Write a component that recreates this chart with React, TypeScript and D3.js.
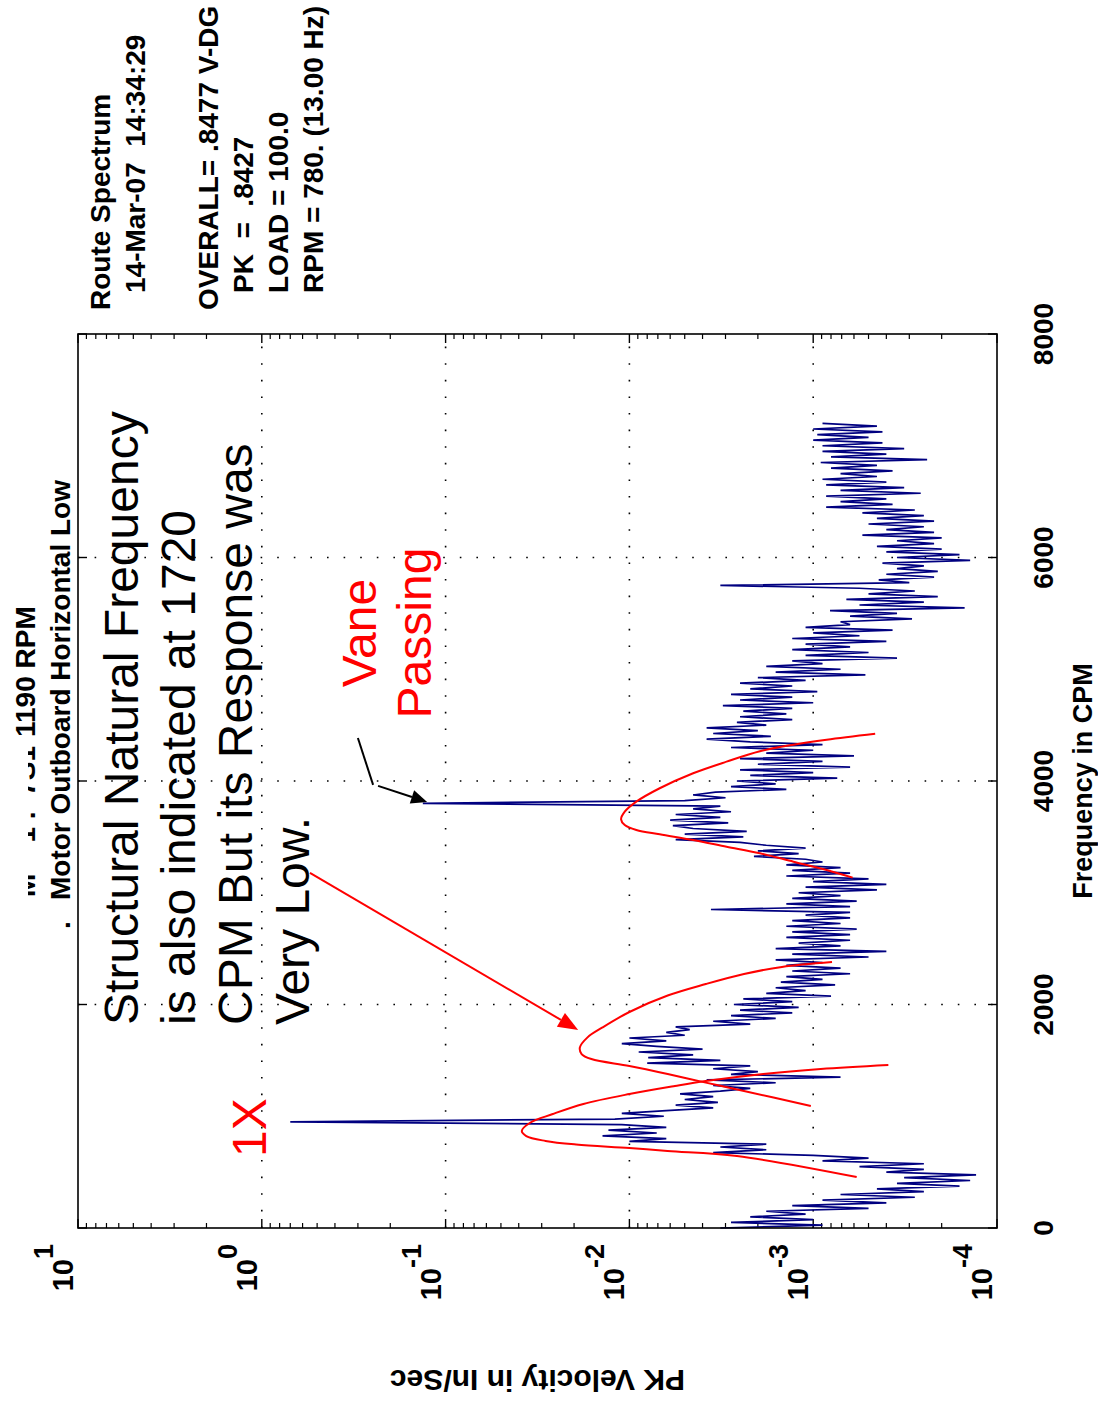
import React from 'react'
import * as d3 from 'd3'

const FONT = "'Liberation Sans', Arial, Helvetica, sans-serif"

// Frequency axis (CPM) and log velocity axis
const FREQ_TICKS = [0, 2000, 4000, 6000, 8000]
const FREQ_GRID = [2000, 4000, 6000]
const DECADE_EXPONENTS = [1, 0, -1, -2, -3, -4]

// Route spectrum, one line every 25 CPM from 0 CPM (PK in/sec)
const SPEC_STEP = 25
const SPEC_VALUES = [
  3.2e-3, 8.9e-4, 2.8e-3, 1.0e-3, 2.2e-3, 1.1e-3, 1.8e-3, 5.0e-4,
  1.3e-3, 4.0e-4, 8.9e-4, 2.8e-4, 7.1e-4, 2.5e-4, 4.5e-4, 1.6e-4,
  3.5e-4, 1.4e-4, 3.2e-4, 1.3e-4, 4.0e-4, 2.5e-4, 5.6e-4, 2.5e-4,
  8.9e-4, 5.0e-4, 1.0e-3, 3.5e-3, 1.8e-3, 3.2e-3, 1.8e-3, 1.0e-2,
  6.3e-3, 1.4e-2, 7.1e-3, 1.3e-2, 6.3e-3, 1.1e-2, 0.70, 1.2e-2,
  6.5e-3, 1.1e-2, 6.3e-3, 3.5e-3, 5.6e-3, 3.3e-3, 5.0e-3, 3.5e-3,
  5.3e-3, 3.2e-3, 2.2e-3, 3.5e-3, 1.6e-3, 3.8e-3, 7.1e-4, 2.8e-3,
  2.0e-3, 3.5e-3, 2.2e-3, 8.0e-3, 3.2e-3, 7.9e-3, 4.5e-3, 8.9e-3,
  4.0e-3, 7.1e-3, 1.1e-2, 6.3e-3, 1.0e-2, 5.0e-3, 6.3e-3, 4.7e-3,
  5.6e-3, 2.2e-3, 3.5e-3, 1.6e-3, 2.8e-3, 1.3e-3, 2.5e-3, 1.2e-3,
  2.7e-3, 1.3e-3, 2.4e-3, 8.0e-4, 1.8e-3, 1.1e-3, 1.6e-3, 7.6e-4,
  1.5e-3, 8.9e-4, 1.4e-3, 6.3e-4, 1.3e-3, 7.1e-4, 1.4e-3, 8.9e-4,
  1.6e-3, 5.0e-4, 1.3e-3, 4.0e-4, 1.6e-3, 7.1e-4, 1.2e-3, 6.3e-4,
  1.4e-3, 6.3e-4, 1.3e-3, 5.8e-4, 1.4e-3, 7.1e-4, 1.3e-3, 6.3e-4,
  1.1e-3, 6.3e-4, 3.6e-3, 6.3e-4, 1.4e-3, 5.8e-4, 1.3e-3, 7.1e-4,
  1.2e-3, 4.5e-4, 1.1e-3, 4.0e-4, 1.0e-3, 5.0e-4, 1.4e-3, 6.3e-4,
  1.3e-3, 7.1e-4, 1.4e-3, 8.9e-4, 1.1e-3, 2.1e-3, 1.2e-3, 2.0e-3,
  1.1e-3, 1.8e-3, 2.5e-3, 5.6e-3, 2.4e-3, 5.0e-3, 2.3e-3, 4.5e-3,
  5.8e-3, 2.9e-3, 6.0e-3, 3.2e-3, 5.6e-3, 2.8e-3, 4.5e-3, 3.2e-3,
  0.133, 5.0e-3, 3.0e-3, 4.5e-3, 3.4e-3, 1.4e-3, 2.8e-3, 1.6e-3,
  2.6e-3, 7.4e-4, 2.2e-3, 1.0e-3, 2.5e-3, 6.3e-4, 2.0e-3, 8.9e-4,
  2.5e-3, 6.0e-4, 1.8e-3, 1.0e-3, 2.8e-3, 8.9e-4, 2.2e-3, 3.8e-3,
  1.7e-3, 3.5e-3, 2.0e-3, 3.8e-3, 1.8e-3, 2.6e-3, 1.3e-3, 2.5e-3,
  1.4e-3, 2.4e-3, 1.3e-3, 3.1e-3, 1.0e-3, 2.5e-3, 1.3e-3, 2.8e-3,
  9.5e-4, 2.2e-3, 1.3e-3, 2.5e-3, 1.1e-3, 2.0e-3, 5.2e-4, 1.6e-3,
  7.1e-4, 1.8e-3, 8.9e-4, 1.3e-3, 3.5e-4, 1.1e-3, 5.0e-4, 1.3e-3,
  6.3e-4, 1.1e-3, 4.0e-4, 1.3e-3, 5.6e-4, 1.0e-3, 3.7e-4, 1.1e-3,
  6.3e-4, 7.1e-4, 2.9e-4, 6.3e-4, 3.5e-4, 8.1e-4, 1.5e-4, 5.6e-4,
  2.5e-4, 6.6e-4, 2.1e-4, 5.0e-4, 2.8e-4, 5.6e-4, 3.2e-3, 3.0e-4,
  4.4e-4, 2.2e-4, 4.0e-4, 2.1e-4, 3.5e-4, 2.5e-4, 4.2e-4, 1.4e-4,
  3.5e-4, 1.6e-4, 4.0e-4, 2.0e-4, 4.5e-4, 2.2e-4, 3.5e-4, 2.0e-4,
  5.4e-4, 2.2e-4, 4.0e-4, 2.5e-4, 5.0e-4, 2.2e-4, 4.5e-4, 2.5e-4,
  5.4e-4, 2.8e-4, 8.5e-4, 3.7e-4, 7.1e-4, 4.0e-4, 8.5e-4, 2.6e-4,
  7.1e-4, 3.2e-4, 8.5e-4, 4.0e-4, 8.9e-4, 4.5e-4, 7.1e-4, 3.7e-4,
  8.0e-4, 4.5e-4, 9.1e-4, 2.4e-4, 8.0e-4, 4.0e-4, 8.9e-4, 3.2e-4,
  8.9e-4, 4.2e-4, 1.0e-3, 5.0e-4, 9.5e-4, 4.2e-4, 1.0e-3, 4.5e-4, 8.9e-4,
]

// Hand drawn response curves [CPM, in/sec]
const CURVE_1X = [
  [456, 5.8e-4], [644, 2.6e-3], [689, 6.2e-3], [716, 1.0e-2], [747, 1.95e-2],
  [779, 2.86e-2], [823, 3.64e-2], [868, 3.85e-2], [942, 3.47e-2], [1020, 2.61e-2],
  [1110, 1.78e-2], [1199, 1.0e-2], [1271, 5.65e-3], [1315, 3.84e-3], [1378, 1.87e-3],
  [1423, 9.1e-4], [1459, 3.9e-4],
]
const CURVE_NATURAL = [
  [1092, 1.03e-3], [1226, 2.38e-3], [1301, 3.84e-3], [1378, 6.19e-3], [1450, 1.0e-2],
  [1512, 1.61e-2], [1557, 1.82e-2], [1615, 1.86e-2], [1706, 1.69e-2], [1795, 1.4e-2],
  [1933, 1.0e-2], [2080, 6.19e-3], [2183, 3.84e-3], [2273, 2.38e-3], [2336, 1.48e-3],
  [2380, 7.9e-4],
]
const CURVE_VANE = [
  [3135, 6.1e-4], [3204, 8.45e-4], [3278, 1.28e-3], [3353, 1.95e-3], [3412, 2.96e-3],
  [3472, 4.5e-3], [3523, 6.84e-3], [3562, 9.17e-3], [3606, 1.06e-2], [3657, 1.11e-2],
  [3725, 1.06e-2], [3815, 9.17e-3], [3935, 6.84e-3], [4069, 4.5e-3], [4173, 2.96e-3],
  [4266, 1.95e-3], [4325, 1.28e-3], [4370, 8.45e-4], [4423, 4.6e-4],
]

// Annotation arrows [CPM, in/sec]
const RED_ARROW = [[3177, 0.547], [1772, 0.019]]
const BLACK_LEAD = [[4385, 0.30], [3965, 0.248]]
const BLACK_ARROW = [[3956, 0.233], [3813, 0.126]]

const NOTE_LINES = [
  'Structural Natural Frequency',
  'is also indicated at 1720',
  'CPM But its Response was',
  'Very Low.',
]
const NOTE_ANCHOR = [1817, 4.72]
const ONE_X_ANCHOR = [635, 0.949]
const VANE_LINES = ['Vane', 'Passing']
const VANE_ANCHORS = [[5324, 0.239], [5324, 0.120]]

const HEADER_LINES = [
  { text: 'Route Spectrum', indent: 0, base: 110 },
  { text: '14-Mar-07  14:34:29', indent: 17, base: 145 },
  { text: 'OVERALL= .8477 V-DG', indent: 0, base: 218 },
  { text: 'PK  =  .8427', indent: 17, base: 253 },
  { text: 'LOAD = 100.0', indent: 17, base: 288 },
  { text: 'RPM = 780. (13.00 Hz)', indent: 17, base: 323 },
]

function arrowHead(p0, p1, len, half) {
  const dx = p1[0] - p0[0]
  const dy = p1[1] - p0[1]
  const d = Math.hypot(dx, dy)
  const ux = dx / d
  const uy = dy / d
  const bx = p1[0] - ux * len
  const by = p1[1] - uy * len
  return {
    base: [bx, by],
    points: `${p1[0]},${p1[1]} ${bx - uy * half},${by + ux * half} ${bx + uy * half},${by - ux * half}`,
  }
}

export default function App() {
  // the chart is laid out unrotated (1408 wide, 1098 high) and then turned a quarter
  const W = 1408
  const H = 1098
  const plot = { left: 180, right: 1074, top: 78, bottom: 997 }

  const x = d3.scaleLinear().domain([0, 8000]).range([plot.left, plot.right])
  const y = d3.scaleLog().domain([1e-4, 10]).range([plot.bottom, plot.top])
  const pt = (d) => [x(d[0]), y(d[1])]

  const specLine = d3.line<number[]>()
    .x((d) => x(d[0]))
    .y((d) => y(d[1]))
  const smooth = d3.line<number[]>()
    .x((d) => x(d[0]))
    .y((d) => y(d[1]))
    .curve(d3.curveCatmullRom.alpha(0.5))

  const spectrum = SPEC_VALUES.map((v, i) => [i * SPEC_STEP, v])

  const minorTicks = []
  for (let e = -4; e < 1; e++) {
    for (let k = 2; k <= 9; k++) minorTicks.push(k * Math.pow(10, e))
  }

  const red = arrowHead(pt(RED_ARROW[0]), pt(RED_ARROW[1]), 20, 8)
  const blk = arrowHead(pt(BLACK_ARROW[0]), pt(BLACK_ARROW[1]), 16, 7)
  const redStart = pt(RED_ARROW[0])
  const blkStart = pt(BLACK_ARROW[0])

  const dotted = { stroke: '#000', strokeWidth: 1.6, strokeDasharray: '1.6,15' }

  return (
    <svg
      width={H}
      height={W}
      style={{ position: 'absolute', left: 0, top: 0, background: '#fff' }}
      fontFamily={FONT}
    >
      <rect width={H} height={W} fill="#fff" />
      <g transform={`translate(0,${W}) rotate(-90)`}>
        {/* grid */}
        {DECADE_EXPONENTS.filter((e) => e < 1 && e > -4).map((e) => (
          <line key={'gy' + e} x1={plot.left} x2={plot.right}
            y1={y(Math.pow(10, e))} y2={y(Math.pow(10, e))} {...dotted} />
        ))}
        {FREQ_GRID.map((f) => (
          <line key={'gx' + f} x1={x(f)} x2={x(f)} y1={plot.top} y2={plot.bottom} {...dotted} />
        ))}

        {/* ticks */}
        {minorTicks.map((v) => (
          <g key={'mt' + v} stroke="#000" strokeWidth={1.2}>
            <line x1={plot.left} x2={plot.left + 5} y1={y(v)} y2={y(v)} />
            <line x1={plot.right} x2={plot.right - 5} y1={y(v)} y2={y(v)} />
          </g>
        ))}
        {DECADE_EXPONENTS.map((e) => (
          <g key={'Mt' + e} stroke="#000" strokeWidth={1.4}>
            <line x1={plot.left} x2={plot.left + 9} y1={y(Math.pow(10, e))} y2={y(Math.pow(10, e))} />
            <line x1={plot.right} x2={plot.right - 9} y1={y(Math.pow(10, e))} y2={y(Math.pow(10, e))} />
          </g>
        ))}
        {FREQ_TICKS.map((f) => (
          <g key={'xt' + f} stroke="#000" strokeWidth={1.4}>
            <line x1={x(f)} x2={x(f)} y1={plot.bottom} y2={plot.bottom - 9} />
            <line x1={x(f)} x2={x(f)} y1={plot.top} y2={plot.top + 9} />
          </g>
        ))}

        {/* spectrum */}
        <path d={specLine(spectrum)} fill="none" stroke="#000080" strokeWidth={1.7}
          strokeLinejoin="miter" strokeMiterlimit={2} />

        {/* red response curves */}
        {[CURVE_1X, CURVE_NATURAL, CURVE_VANE].map((c, i) => (
          <path key={'c' + i} d={smooth(c)} fill="none" stroke="#ff0000" strokeWidth={2} />
        ))}

        {/* frame */}
        <rect x={plot.left} y={plot.top} width={plot.right - plot.left} height={plot.bottom - plot.top}
          fill="none" stroke="#000" strokeWidth={1.6} />

        {/* tick labels */}
        {DECADE_EXPONENTS.map((e) => (
          <text key={'yl' + e} x={164} y={y(Math.pow(10, e)) - 5} textAnchor="end"
            fontSize={29} fontWeight="bold">
            10<tspan dy={-20} fontSize={27}>{String(e)}</tspan>
          </text>
        ))}
        {FREQ_TICKS.map((f) => (
          <text key={'xl' + f} x={x(f)} y={1053} textAnchor="middle" fontSize={28} fontWeight="bold">
            {f}
          </text>
        ))}

        {/* axis titles */}
        <text x={x(4000)} y={1092} textAnchor="middle" fontSize={27} fontWeight="bold">
          Frequency in CPM
        </text>
        <text transform={`translate(38,${(plot.top + plot.bottom) / 2}) rotate(-90)`}
          textAnchor="middle" fontSize={30} fontWeight="bold">
          PK Velocity in In/Sec
        </text>

        {/* title, first line partly covered in the original */}
        <text x={662} y={35} textAnchor="end" fontSize={28} fontWeight="bold"
          style={{ whiteSpace: 'pre' }}>{'M    1 .  7S1'}</text>
        <rect x={430} y={0} width={236} height={28} fill="#fff" />
        <text x={671} y={35} fontSize={28} fontWeight="bold">1190 RPM</text>
        <text x={479} y={70} fontSize={28} fontWeight="bold">.</text>
        <text x={508} y={70} fontSize={28} fontWeight="bold">Motor Outboard Horizontal Low</text>

        {/* header block */}
        {HEADER_LINES.map((l) => (
          <text key={l.text} x={1098 + l.indent} y={l.base} fontSize={28} fontWeight="bold"
            style={{ whiteSpace: 'pre' }}>
            {l.text}
          </text>
        ))}

        {/* annotations */}
        {NOTE_LINES.map((t, i) => (
          <text key={t} x={x(NOTE_ANCHOR[0])} y={y(NOTE_ANCHOR[1]) + i * 57} fontSize={48}>
            {t}
          </text>
        ))}
        <text x={x(ONE_X_ANCHOR[0])} y={y(ONE_X_ANCHOR[1])} fontSize={48} fill="#ff0000">1X</text>
        {VANE_LINES.map((t, i) => (
          <text key={t} x={x(VANE_ANCHORS[i][0])} y={y(VANE_ANCHORS[i][1])} textAnchor="middle"
            fontSize={48} fill="#ff0000">
            {t}
          </text>
        ))}

        <line x1={redStart[0]} y1={redStart[1]} x2={red.base[0]} y2={red.base[1]} stroke="#ff0000" strokeWidth={2} />
        <polygon points={red.points} fill="#ff0000" />

        <line x1={x(BLACK_LEAD[0][0])} y1={y(BLACK_LEAD[0][1])} x2={x(BLACK_LEAD[1][0])} y2={y(BLACK_LEAD[1][1])}
          stroke="#000" strokeWidth={2} />
        <line x1={blkStart[0]} y1={blkStart[1]} x2={blk.base[0]} y2={blk.base[1]} stroke="#000" strokeWidth={2} />
        <polygon points={blk.points} fill="#000" />
      </g>
    </svg>
  )
}
